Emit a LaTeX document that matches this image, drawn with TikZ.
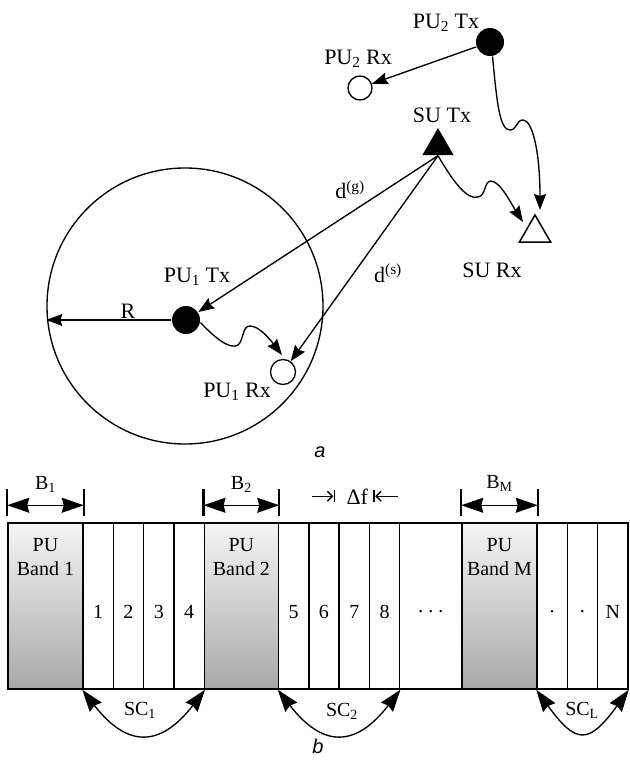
\documentclass[tikz,border=0pt]{standalone}
\usepackage{fontspec}
\setmainfont{Liberation Serif}
\newfontfamily\capfont{Liberation Sans}
\usetikzlibrary{arrows.meta,shapes.geometric}
\tikzset{
  headA/.tip={Stealth[length=16pt,width=12pt,inset=2pt]},
  headB/.tip={Stealth[length=22pt,width=15pt,inset=2pt]},
}

\begin{document}
\begin{tikzpicture}[x=1pt,y=-1pt,line width=1.35pt,
  txt/.style={font=\fontsize{22}{26}\selectfont,inner sep=0pt},
  lbl/.style={font=\fontsize{20}{24}\selectfont,inner sep=0pt},
  capt/.style={font=\capfont\itshape\fontsize{20}{24}\selectfont,inner sep=0pt},
  pufill/.style={circle,fill=black,minimum size=28pt,inner sep=0pt},
  puopen/.style={circle,draw,minimum size=25pt,inner sep=0pt},
  sutri/.style={regular polygon,regular polygon sides=3,minimum size=36pt,inner sep=0pt},
  cell/.style={draw,minimum height=166pt,inner sep=0pt,line width=1.5pt},
  pband/.style={cell,top color=gray!8,bottom color=gray!68},
  bar/.style={line width=2.2pt},
]
\useasboundingbox (0,0) rectangle (629,760);

% ---------------- (a) network geometry ----------------
\node[circle,draw,minimum size=276pt,inner sep=0pt] (zone) at (185,306) {};
\node[pufill] (pu1tx) at (186,320) {};
\node[puopen] (pu1rx) at (283,372) {};
\node[pufill] (pu2tx) at (490,42) {};
\node[puopen,minimum size=24pt] (pu2rx) at (360,88) {};
\node[sutri,fill=black] (sutx) at (438,146) {};
\node[sutri,draw,line width=1.5pt] (surx) at (535,233) {};

\node[txt] at (197,277) {PU\textsubscript{1} Tx};
\node[txt] at (237,392) {PU\textsubscript{1} Rx};
\node[txt] at (128,311) {R};
\node[txt] at (446,23) {PU\textsubscript{2} Tx};
\node[txt] at (358,59) {PU\textsubscript{2} Rx};
\node[txt] at (442,115) {SU Tx};
\node[txt] at (492,270) {SU Rx};
\node[txt] at (350,190) {d\textsuperscript{(g)}};
\node[txt] at (388,273) {d\textsuperscript{(s)}};

% radius of the primary protection zone
\draw[-headA] (pu1tx.west) -- (pu1tx.west -| zone.west);
% interference / distance links
\draw[-headA] (sutx.south) -- (pu1tx);
\draw[-headA] (sutx.south) -- (pu1rx);
\draw[-headA] (pu2tx) -- (pu2rx);
% fading channels
\draw[-headA] (pu1tx.-10) .. controls (215,338) and (230,350) .. (238,345)
  .. controls (244,340) and (242,326) .. (250,326)
  .. controls (260,326) and (272,342) .. ([shift={(-1pt,17pt)}]pu1rx.center);
\draw[-headA] (sutx.south) .. controls (455,185) and (468,200) .. (478,197)
  .. controls (486,196) and (484,181) .. (491,181)
  .. controls (500,181) and (512,205) .. ([shift={(-12pt,11pt)}]surx.center);
\draw[-headA] (pu2tx.-80) .. controls (497,105) and (500,130) .. (510,130)
  .. controls (517,130) and (516,120) .. (523,120)
  .. controls (532,120) and (540,150) .. ([shift={(5pt,23pt)}]surx.center);

\node[capt] at (320,452) {a};

% ---------------- (b) spectrum layout ----------------
\node[pband,minimum width=75pt]   (b1)  at (45.5,606) {};
\node[cell,minimum width=30.3pt]  (c1)  at (98.15,606) {};
\node[cell,minimum width=30.3pt]  (c2)  at (128.45,606) {};
\node[cell,minimum width=30.4pt]  (c3)  at (158.8,606) {};
\node[cell,minimum width=30.3pt]  (c4)  at (189.15,606) {};
\node[pband,minimum width=74.2pt] (b2)  at (241.4,606) {};
\node[cell,minimum width=30.3pt]  (c5)  at (293.65,606) {};
\node[cell,minimum width=30.3pt]  (c6)  at (323.95,606) {};
\node[cell,minimum width=30.3pt]  (c7)  at (354.25,606) {};
\node[cell,minimum width=30.3pt]  (c8)  at (384.55,606) {};
\node[cell,minimum width=62.3pt]  (gap) at (430.85,606) {};
\node[pband,minimum width=75pt]   (bM)  at (499.5,606) {};
\node[cell,minimum width=30.3pt]  (c9)  at (552.15,606) {};
\node[cell,minimum width=30.3pt]  (c10) at (582.45,606) {};
\node[cell,minimum width=30.4pt]  (c11) at (612.8,606) {};

\node[lbl,align=center] at ([yshift=-35pt]b1.north) {PU\\Band 1};
\node[lbl,align=center] at ([yshift=-35pt]b2.north) {PU\\Band 2};
\node[lbl,align=center] at ([yshift=-35pt]bM.north) {PU\\Band M};

\node[lbl] at ([yshift=-6pt]c1.center) {1};
\node[lbl] at ([yshift=-6pt]c2.center) {2};
\node[lbl] at ([yshift=-6pt]c3.center) {3};
\node[lbl] at ([yshift=-6pt]c4.center) {4};
\node[lbl] at ([yshift=-6pt]c5.center) {5};
\node[lbl] at ([yshift=-6pt]c6.center) {6};
\node[lbl] at ([yshift=-6pt]c7.center) {7};
\node[lbl] at ([yshift=-6pt]c8.center) {8};
\node[lbl] at ([yshift=-6pt]gap.center) {.\hspace{5pt}.\hspace{5pt}.};
\node[lbl] at ([yshift=-6pt]c9.center) {.};
\node[lbl] at ([yshift=-6pt]c10.center) {.};
\node[lbl] at ([yshift=-6pt]c11.center) {N};

% band widths
\foreach \b in {b1,b2,bM}{
  \draw[bar] ([yshift=6pt]\b.north west) -- ([yshift=33pt]\b.north west);
  \draw[bar] ([yshift=6pt]\b.north east) -- ([yshift=33pt]\b.north east);
  \draw[headB-headB] ([yshift=17pt]\b.north west) -- ([yshift=17pt]\b.north east);
}
\node[lbl] at ([yshift=38pt]b1.north) {B\textsubscript{1}};
\node[lbl] at ([yshift=38pt]b2.north) {B\textsubscript{2}};
\node[lbl] at ([yshift=39pt]bM.north) {B\textsubscript{M}};

% subcarrier spacing
\draw ([shift={(-4pt,20pt)}]c7.north west) -- ([shift={(-4pt,32pt)}]c7.north west);
\draw ([shift={(4pt,20pt)}]c7.north east) -- ([shift={(4pt,32pt)}]c7.north east);
\draw[-{Straight Barb[length=5pt,width=10pt]}] ([shift={(-26pt,26pt)}]c7.north west) -- ([shift={(-5pt,26pt)}]c7.north west);
\draw[-{Straight Barb[length=5pt,width=10pt]}] ([shift={(28pt,26pt)}]c7.north east) -- ([shift={(5pt,26pt)}]c7.north east);
\node[txt] at ([shift={(3pt,26pt)}]c7.north) {Δf};

% subcarrier clusters
\draw[headB-headB] (c1.south west) .. controls +(45pt,-58pt) and +(-45pt,-58pt) .. (c4.south east);
\draw[headB-headB] (c5.south west) .. controls +(45pt,-58pt) and +(-45pt,-58pt) .. (c8.south east);
\draw[headB-headB] (c9.south west) .. controls +(40pt,-55pt) and +(-40pt,-55pt) .. (c11.south east);
\node[lbl] at (140,710) {SC\textsubscript{1}};
\node[lbl] at (342,711) {SC\textsubscript{2}};
\node[lbl] at (582,710) {SC\textsubscript{L}};

\node[capt] at (318,746) {b};
\end{tikzpicture}
\end{document}
